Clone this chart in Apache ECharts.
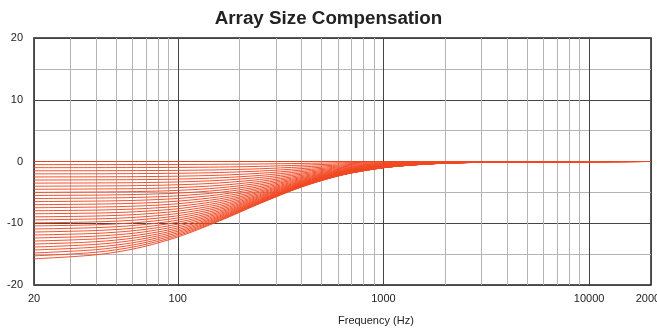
<!DOCTYPE html>
<html>
<head>
<meta charset="utf-8">
<script src="https://cdn.jsdelivr.net/npm/echarts/dist/echarts.min.js"></script>
<style>
  html, body { margin: 0; padding: 0; background: #fff; }
  #chart { width: 657px; height: 328px; }
</style>
</head>
<body>
<div id="chart"></div>
<script>
const freqs = [20, 40, 63, 100, 160, 250, 400, 630, 1000, 1600, 2500, 4000, 20000];

// low-frequency level of each curve (dB)
const levels = [0, -0.5, -1, -1.5, -2, -2.5, -3, -3.5, -4, -4.5, -5, -5.5, -6, -6.5, -7, -7.5,
  -8, -8.5, -9, -9.5, -10, -10.5, -11, -11.5, -12, -12.5, -13, -13.5, -14, -14.5, -15, -15.5, -16];

// gain (dB) of each curve at the freqs above, one row per level
const curves = [
  [0, 0, 0, 0, 0, 0, 0, 0, 0, 0, 0, 0, 0],
  [-0.5, -0.5, -0.49, -0.48, -0.45, -0.40, -0.31, -0.20, -0.10, -0.05, -0.02, -0.01, 0],
  [-1, -0.99, -0.98, -0.96, -0.90, -0.79, -0.60, -0.38, -0.19, -0.09, -0.04, -0.01, 0],
  [-1.5, -1.49, -1.47, -1.44, -1.35, -1.18, -0.88, -0.55, -0.28, -0.12, -0.05, -0.02, 0],
  [-2, -1.99, -1.96, -1.91, -1.78, -1.55, -1.15, -0.70, -0.36, -0.16, -0.07, -0.03, 0],
  [-2.5, -2.48, -2.45, -2.38, -2.22, -1.91, -1.40, -0.85, -0.43, -0.19, -0.08, -0.03, 0],
  [-3, -2.97, -2.94, -2.85, -2.64, -2.26, -1.63, -0.98, -0.49, -0.21, -0.09, -0.04, 0],
  [-3.5, -3.47, -3.42, -3.31, -3.06, -2.59, -1.86, -1.10, -0.54, -0.24, -0.10, -0.04, 0],
  [-4, -3.96, -3.91, -3.77, -3.47, -2.92, -2.06, -1.21, -0.60, -0.26, -0.11, -0.04, 0],
  [-4.5, -4.45, -4.39, -4.23, -3.87, -3.23, -2.26, -1.32, -0.64, -0.28, -0.12, -0.05, 0],
  [-5, -4.94, -4.87, -4.68, -4.26, -3.52, -2.44, -1.41, -0.68, -0.29, -0.12, -0.05, 0],
  [-5.5, -5.44, -5.34, -5.12, -4.64, -3.80, -2.61, -1.49, -0.72, -0.31, -0.13, -0.05, 0],
  [-6, -5.92, -5.82, -5.56, -5.00, -4.07, -2.76, -1.57, -0.75, -0.32, -0.13, -0.05, 0],
  [-6.5, -6.41, -6.29, -5.99, -5.36, -4.32, -2.90, -1.64, -0.78, -0.34, -0.14, -0.06, 0],
  [-6.99, -6.90, -6.76, -6.42, -5.71, -4.56, -3.04, -1.70, -0.81, -0.35, -0.14, -0.06, 0],
  [-7.49, -7.38, -7.22, -6.84, -6.04, -4.79, -3.16, -1.76, -0.84, -0.36, -0.15, -0.06, 0],
  [-7.97, -7.87, -7.68, -7.25, -6.36, -5.00, -3.27, -1.81, -0.86, -0.36, -0.15, -0.06, 0],
  [-8.46, -8.35, -8.13, -7.65, -6.66, -5.19, -3.37, -1.86, -0.88, -0.37, -0.16, -0.06, 0],
  [-8.96, -8.83, -8.58, -8.04, -6.96, -5.38, -3.46, -1.90, -0.89, -0.38, -0.16, -0.06, 0],
  [-9.45, -9.30, -9.03, -8.42, -7.24, -5.55, -3.54, -1.94, -0.91, -0.39, -0.16, -0.07, 0],
  [-9.94, -9.78, -9.47, -8.79, -7.50, -5.70, -3.62, -1.97, -0.92, -0.39, -0.16, -0.07, 0],
  [-10.43, -10.25, -9.90, -9.15, -7.75, -5.85, -3.69, -2.00, -0.94, -0.40, -0.17, -0.07, 0],
  [-10.93, -10.71, -10.33, -9.50, -7.99, -5.98, -3.75, -2.03, -0.95, -0.40, -0.17, -0.07, 0],
  [-11.42, -11.18, -10.75, -9.83, -8.21, -6.11, -3.81, -2.05, -0.96, -0.41, -0.17, -0.07, 0],
  [-11.90, -11.64, -11.16, -10.15, -8.41, -6.22, -3.86, -2.07, -0.97, -0.41, -0.17, -0.07, 0],
  [-12.39, -12.09, -11.56, -10.46, -8.61, -6.32, -3.90, -2.09, -0.97, -0.41, -0.17, -0.07, 0],
  [-12.88, -12.54, -11.95, -10.76, -8.79, -6.41, -3.94, -2.11, -0.98, -0.41, -0.17, -0.07, 0],
  [-13.37, -12.99, -12.33, -11.04, -8.95, -6.50, -3.98, -2.13, -0.99, -0.42, -0.18, -0.07, 0],
  [-13.85, -13.42, -12.70, -11.30, -9.11, -6.58, -4.02, -2.14, -0.99, -0.42, -0.18, -0.07, 0],
  [-14.33, -13.86, -13.06, -11.55, -9.25, -6.65, -4.04, -2.15, -1.00, -0.42, -0.18, -0.07, 0],
  [-14.81, -14.28, -13.41, -11.79, -9.38, -6.71, -4.07, -2.16, -1.00, -0.42, -0.18, -0.07, 0],
  [-15.28, -14.70, -13.74, -12.02, -9.50, -6.77, -4.10, -2.17, -1.01, -0.42, -0.18, -0.07, 0],
  [-15.76, -15.11, -14.06, -12.23, -9.61, -6.82, -4.12, -2.18, -1.01, -0.42, -0.18, -0.07, 0],
];

// light vertical grid lines between the decades
const minorFreqs = [30, 40, 50, 60, 70, 80, 90, 200, 300, 400, 500, 600, 700, 800, 900,
  2000, 3000, 4000, 5000, 6000, 7000, 8000, 9000];

const font = "'Liberation Sans', Arial, sans-serif";
const red = "#F24822";

const series = levels.map((lv, i) => ({
  name: lv + " dB",
  type: "line",
  data: freqs.map((f, j) => [f, curves[i][j]]),
  showSymbol: false,
  smooth: 0.3,
  silent: true,
  z: 3,
  lineStyle: { color: red, width: 0.95 },
}));

series.unshift({
  type: "line",
  data: [],
  silent: true,
  z: 1,
  markLine: {
    silent: true,
    z: 1,
    symbol: ["none", "none"],
    label: { show: false },
    lineStyle: { color: "#b4b4b4", type: "solid", width: 1 },
    data: minorFreqs.map((f) => ({ xAxis: f })),
  },
});

const option = {
  animation: false,
  title: {
    text: "Array Size Compensation",
    left: "center",
    top: 9,
    padding: 0,
    textStyle: { fontFamily: font, fontSize: 18.8, fontWeight: "bold", color: "#222" },
  },
  grid: {
    left: 34,
    right: 6,
    top: 38,
    bottom: 43,
    containLabel: false,
    outerBoundsMode: "none",
    show: true,
    borderColor: "#222",
    borderWidth: 1.5,
  },
  xAxis: {
    type: "log",
    logBase: 10,
    min: 20,
    max: 20000,
    axisLine: { show: false },
    axisTick: { show: false },
    axisLabel: {
      color: "#222",
      fontSize: 11,
      fontFamily: font,
      margin: 8,
      showMinLabel: true,
      showMaxLabel: true,
      formatter: (v) => String(Math.round(v)),
    },
    splitLine: { show: true, lineStyle: { color: "#444", width: 1 } },
  },
  yAxis: {
    type: "value",
    min: -20,
    max: 20,
    interval: 10,
    axisLine: { show: false },
    axisTick: { show: false },
    axisLabel: { color: "#222", fontSize: 11, fontFamily: font, margin: 11 },
    splitLine: { show: true, lineStyle: { color: "#444", width: 1 } },
    minorTick: { show: false, splitNumber: 2 },
    minorSplitLine: { show: true, lineStyle: { color: "#b4b4b4", width: 1 } },
  },
  graphic: [
    {
      type: "text",
      left: 338,
      top: 315,
      style: { text: "Frequency (Hz)", fontFamily: font, fontSize: 11, fill: "#222" },
    },
  ],
  series: series,
};

const myChart = echarts.init(document.getElementById("chart"));
myChart.setOption(option);
</script>
</body>
</html>
